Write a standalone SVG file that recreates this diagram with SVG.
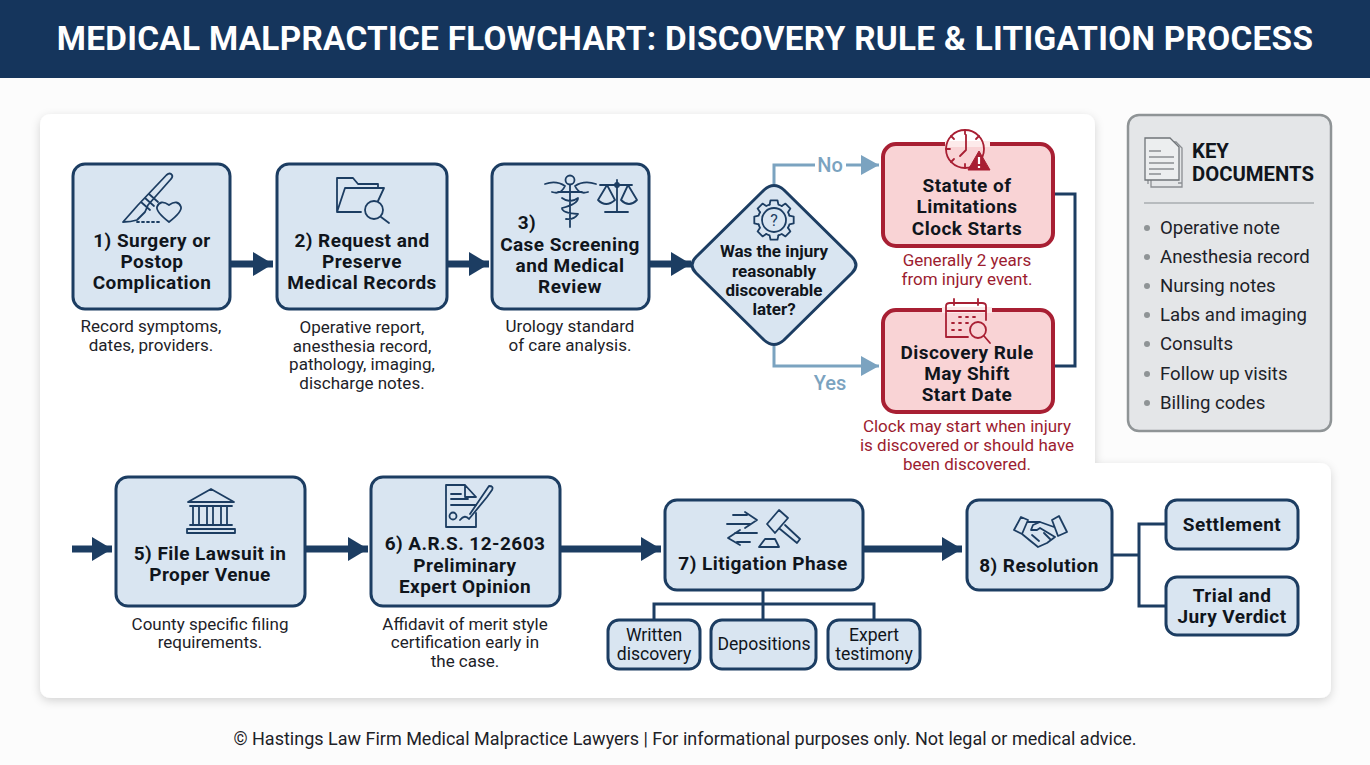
<svg xmlns="http://www.w3.org/2000/svg" width="1370" height="765" viewBox="0 0 1370 765">
<defs>
<style>
text{font-family:Roboto,"Liberation Sans",sans-serif;text-anchor:middle;dominant-baseline:central}
.t{font-size:19px;font-weight:700;fill:#10151c;letter-spacing:.45px}
.s{font-size:17px;fill:#1d2228}
.r{font-size:17px;fill:#9c1c30}
.d{font-size:17px;font-weight:700;fill:#10151c}
.c{font-size:17.6px;fill:#10151c}
.l{font-size:18.6px;fill:#1d2228;text-anchor:start}
.b{fill:#d9e5f1;stroke:#1c3d62;stroke-width:3}
.rb{fill:#f9d3d5;stroke:#a81f33;stroke-width:4}
.i{fill:none;stroke:#1c3d62;stroke-width:1.8;stroke-linejoin:round;stroke-linecap:round}
.ir{fill:none;stroke:#a81f33;stroke-width:1.8;stroke-linejoin:round;stroke-linecap:round}
.a{fill:none;stroke:#1c3d62;stroke-width:7}
.n{fill:none;stroke:#1c3d62;stroke-width:3}
.g{fill:none;stroke:#7ba3c0;stroke-width:3}
.k{font-size:20.3px;font-weight:700;fill:#10151c;text-anchor:start}
</style>
<marker id="ah" markerUnits="userSpaceOnUse" markerWidth="20" markerHeight="24" refX="20" refY="12" orient="auto"><path d="M0 0L20 12L0 24Z" fill="#1c3d62"/></marker>
<marker id="ag" markerUnits="userSpaceOnUse" markerWidth="18" markerHeight="20" refX="18" refY="10" orient="auto"><path d="M0 0L18 10L0 20Z" fill="#7ba3c0"/></marker>
<filter id="sh" x="-5%" y="-5%" width="110%" height="110%"><feDropShadow dx="0" dy="3" stdDeviation="5" flood-color="#000" flood-opacity="0.16"/></filter>
<path id="tooth" class="i" d="M-4.41 -15.38L-3.47 -19.7H3.47L4.41 -15.38A16 16 0 0 1 7.76 -13.99"/>
</defs>
<rect width="1370" height="765" fill="#fcfcfc"/>
<g id="header"><rect width="1370" height="78" fill="#15355c"/>
<text x="685" y="38" font-size="33.3" font-weight="700" fill="#fff" style="letter-spacing:.3px">MEDICAL MALPRACTICE FLOWCHART: DISCOVERY RULE &amp; LITIGATION PROCESS</text></g>
<path id="panel" d="M52 114H1083Q1095 114 1095 126V463H1319Q1331 463 1331 475V686Q1331 698 1319 698H52Q40 698 40 686V126Q40 114 52 114Z" fill="#fff" filter="url(#sh)"/>
<g id="connectors">
<path class="a" marker-end="url(#ah)" d="M230 264H273"/>
<path class="a" marker-end="url(#ah)" d="M447 264H489"/>
<path class="a" marker-end="url(#ah)" d="M649 264H691"/>
<path class="a" marker-end="url(#ah)" d="M72 549H112"/>
<path class="a" marker-end="url(#ah)" d="M305 549H368"/>
<path class="a" marker-end="url(#ah)" d="M560 549H661"/>
<path class="a" marker-end="url(#ah)" d="M863 549H962"/>
<path class="g" d="M774 184V165H815"/>
<path class="g" marker-end="url(#ag)" d="M846 165H879"/>
<path class="g" marker-end="url(#ag)" d="M774 346V366H879"/>
<path class="n" d="M1053 194H1075V366H1053"/>
<path class="n" d="M763 590V620M654 620V604H874V620"/>
<path class="n" d="M1112 555H1139M1166 524H1139V606H1166"/>
</g>
<text x="830" y="165" font-size="20" font-weight="500" fill="#7ba3c0">No</text>
<text x="830" y="383" font-size="20" font-weight="500" fill="#7ba3c0">Yes</text>

<g id="node1"><rect class="b" x="73" y="164" width="157" height="145" rx="12"/>
<path class="i" d="M123 222L138 205L166.500 175Q170 172 172 175Q173 177 171 179L148 205L145 212L137 220Q131 222 123 222ZM141 202L150 210M145 198L154 206M149 194L158 202"/>
<path class="i" d="M137 222H160" stroke-dasharray="2 3"/>
<path class="i" d="M169 222Q156 212 157 207Q160 199 169 205Q178 199 181 207Q182 212 169 222Z"/>
<text class="t"><tspan x="152" y="240">1) Surgery or</tspan><tspan x="152" y="261">Postop</tspan><tspan x="152" y="282">Complication</tspan></text>
<text class="s"><tspan x="151" y="326">Record symptoms,</tspan><tspan x="151" y="345">dates, providers.</tspan></text></g>

<g id="node2"><rect class="b" x="277" y="164" width="170" height="145" rx="12"/>
<path class="i" d="M337 212V178H353L358 184H378V188M337 212L345 188H384L378 201M337 212H361"/>
<circle class="i" cx="374" cy="210" r="9"/><path class="i" d="M381 217L389 223" stroke-width="3"/>
<text class="t"><tspan x="362" y="240">2) Request and</tspan><tspan x="362" y="261">Preserve</tspan><tspan x="362" y="282">Medical Records</tspan></text>
<text class="s"><tspan x="362" y="327">Operative report,</tspan><tspan x="362" y="346">anesthesia record,</tspan><tspan x="362" y="364">pathology, imaging,</tspan><tspan x="362" y="383">discharge notes.</tspan></text></g>

<g id="node3"><rect class="b" x="492" y="164" width="157" height="145" rx="12"/>
<path class="i" d="M570 185V227M545 184Q556 180 565 186Q561 195 552 192M596 184Q584 180 575 186Q579 195 588 192M558 192L582 192M562 198Q570 204 578 198Q578 204 562 208Q562 213 578 214Q574 220 566 219"/><circle class="i" cx="570" cy="180" r="4.500"/>
<path class="i" d="M617 180V212M605 212H628M600 185H632"/>
<path class="i" d="M607 185L598 200Q606 208 615 200ZM628 185L621 200Q629 208 637 200Z"/>
<circle class="i" cx="617" cy="185" r="2"/>
<text class="t" x="527" y="222">3)</text>
<text class="t"><tspan x="570" y="244">Case Screening</tspan><tspan x="570" y="265">and Medical</tspan><tspan x="570" y="286">Review</tspan></text>
<text class="s"><tspan x="570" y="326">Urology standard</tspan><tspan x="570" y="345">of care analysis.</tspan></text></g>

<g id="decision"><path class="b" d="M764 190Q774 181 784 190L852 257Q860 265 852 273L784 340Q774 349 764 340L696 273Q688 265 696 257Z"/>
<use href="#tooth" transform="translate(774 220)"/><use href="#tooth" transform="translate(774 220) rotate(45)"/><use href="#tooth" transform="translate(774 220) rotate(90)"/><use href="#tooth" transform="translate(774 220) rotate(135)"/><use href="#tooth" transform="translate(774 220) rotate(180)"/><use href="#tooth" transform="translate(774 220) rotate(225)"/><use href="#tooth" transform="translate(774 220) rotate(270)"/><use href="#tooth" transform="translate(774 220) rotate(315)"/>
<circle class="i" cx="774" cy="220" r="12"/>
<text x="774" y="220" font-size="16" fill="#1c3d62">?</text>
<text class="d"><tspan x="774" y="251">Was the injury</tspan><tspan x="774" y="271">reasonably</tspan><tspan x="774" y="290">discoverable</tspan><tspan x="774" y="309">later?</tspan></text></g>

<g id="statute"><rect class="rb" x="883" y="144" width="170" height="102" rx="13"/>
<rect x="945" y="141" width="45" height="6" fill="#fdeaea"/>
<circle class="ir" cx="965" cy="149" r="19"/>
<path class="ir" d="M966 135V150L960 156M965 130V134M965 164V168M946 149H950M951 136L954 139M979 136L976 139M951 162L954 159"/>
<path d="M979 151L990 170H968Z" fill="#a81f33" stroke="#a81f33" stroke-linejoin="round"/><path d="M979 157V164M979 166V168" stroke="#fff" stroke-width="2.200"/>
<text class="t"><tspan x="967" y="185">Statute of</tspan><tspan x="967" y="206">Limitations</tspan><tspan x="967" y="228">Clock Starts</tspan></text>
<text class="r"><tspan x="967" y="260">Generally 2 years</tspan><tspan x="967" y="279">from injury event.</tspan></text></g>

<g id="discovery"><rect class="rb" x="883" y="310" width="170" height="102" rx="13"/>
<rect x="942" y="307" width="50" height="6" fill="#fdeaea"/>
<path class="ir" d="M986 320V306Q986 303 982 303H950Q946 303 946 306V337H968M946 311H986M954 299V305M978 299V305"/>
<path class="ir" d="M959 317H961M966 317H968M973 317H975M952 323H954M959 323H961M966 323H968M952 330H954M959 330H961" stroke-width="2.500"/>
<circle class="ir" cx="978" cy="330" r="8"/><path class="ir" d="M984 336L990 343" stroke-width="2.500"/>
<text class="t"><tspan x="967" y="352">Discovery Rule</tspan><tspan x="967" y="373">May Shift</tspan><tspan x="967" y="394">Start Date</tspan></text>
<text class="r"><tspan x="967" y="426">Clock may start when injury</tspan><tspan x="967" y="445">is discovered or should have</tspan><tspan x="967" y="464">been discovered.</tspan></text></g>

<g id="documents"><rect x="1128" y="115" width="203" height="316" rx="11" fill="#e4e6e8" stroke="#8f9496" stroke-width="2.500"/>
<path d="M1151 142V187H1182V148L1176 142ZM1148 145H1151M1148 145V184M1182 183H1178" fill="none" stroke="#8a8e92" stroke-width="1.300"/>
<path d="M1145 138H1170L1179 147V180H1145Z" fill="#eceeef" stroke="#6f7478" stroke-width="1.300"/>
<path d="M1149 151H1161M1149 157H1174M1149 163H1174M1149 169H1174M1149 174H1161" stroke="#8a8e92" stroke-width="1.300"/>
<text class="k"><tspan x="1192" y="151">KEY</tspan><tspan x="1192" y="174">DOCUMENTS</tspan></text>
<path d="M1144 203H1314" stroke="#a9adb0" stroke-width="1.500"/>
<g fill="#8f9496"><circle cx="1147" cy="228" r="3"/><circle cx="1147" cy="257" r="3"/><circle cx="1147" cy="286" r="3"/><circle cx="1147" cy="315" r="3"/><circle cx="1147" cy="344" r="3"/><circle cx="1147" cy="374" r="3"/><circle cx="1147" cy="403" r="3"/></g>
<text class="l" x="1160" y="228">Operative note</text><text class="l" x="1160" y="257">Anesthesia record</text><text class="l" x="1160" y="286">Nursing notes</text><text class="l" x="1160" y="315">Labs and imaging</text><text class="l" x="1160" y="344">Consults</text><text class="l" x="1160" y="374">Follow up visits</text><text class="l" x="1160" y="403">Billing codes</text></g>

<g id="node5"><rect class="b" x="116" y="477" width="189" height="129" rx="12"/>
<path class="i" d="M188 502L211 489L234 502ZM190 506H232M193 506V524M199 506V524M207 506V524M213 506V524M221 506V524M227 506V524M190 525H232M187 533H235V529H187Z"/>
<text class="t"><tspan x="210" y="553">5) File Lawsuit in</tspan><tspan x="210" y="574">Proper Venue</tspan></text>
<text class="s"><tspan x="210" y="624">County specific filing</tspan><tspan x="210" y="642">requirements.</tspan></text></g>

<g id="node6"><rect class="b" x="371" y="477" width="189" height="129" rx="12"/>
<path class="i" d="M476 513V527H446V485H465L476 497M465 485V497H476M451 494H461M451 499H468M451 505H476"/>
<circle class="i" cx="453" cy="516" r="3.500"/><path class="i" d="M460 520Q465 514 469 519L487 497L492 490Q494 486 489 486L470 514"/>
<text class="t"><tspan x="465" y="543">6) A.R.S. 12-2603</tspan><tspan x="465" y="565">Preliminary</tspan><tspan x="465" y="586">Expert Opinion</tspan></text>
<text class="s"><tspan x="465" y="624">Affidavit of merit style</tspan><tspan x="465" y="642">certification early in</tspan><tspan x="465" y="661">the case.</tspan></text></g>

<g id="node7"><rect class="b" x="665" y="500" width="198" height="90" rx="12"/>
<path class="i" d="M733 515H747M745 512L757 520L745 528M727 524H750M740 530L728 538L740 545M735 533H757M737 542H750"/>
<path class="i" d="M767 524L779 510L788 518L775 533ZM780 529L797 543L800 539L785 525M759 547H779L775 539H765Z"/>
<text class="t" x="763" y="563">7) Litigation Phase</text></g>

<g id="node8"><rect class="b" x="967" y="500" width="145" height="90" rx="12"/>
<path class="i" d="M1014 530L1021 517L1028 520L1022 534ZM1052 520L1059 516L1067 532L1058 536ZM1028 522H1040L1054 527M1040 522L1033 525L1031 530H1037L1040 528L1055 537M1022 534L1038 547L1047 543L1055 537M1028 539L1033 543M1032 535L1039 541M1044 533L1050 539"/>
<text class="t" x="1039" y="565">8) Resolution</text></g>

<g id="settlement"><rect class="b" x="1166" y="500" width="132" height="49" rx="11"/><text class="t" x="1232" y="524">Settlement</text></g>
<g id="trial"><rect class="b" x="1166" y="577" width="132" height="58" rx="11"/><text class="t"><tspan x="1232" y="595">Trial and</tspan><tspan x="1232" y="616">Jury Verdict</tspan></text></g>
<g id="written"><rect class="b" x="608" y="620" width="92" height="49" rx="11"/><text class="c"><tspan x="654" y="635">Written</tspan><tspan x="654" y="654">discovery</tspan></text></g>
<g id="depositions"><rect class="b" x="711" y="620" width="105" height="49" rx="11"/><text class="c" x="764" y="644">Depositions</text></g>
<g id="expert"><rect class="b" x="828" y="620" width="92" height="49" rx="11"/><text class="c"><tspan x="874" y="635">Expert</tspan><tspan x="874" y="654">testimony</tspan></text></g>
<text x="685" y="738" font-size="18" fill="#1d2228">© Hastings Law Firm Medical Malpractice Lawyers | For informational purposes only. Not legal or medical advice.</text>
</svg>
